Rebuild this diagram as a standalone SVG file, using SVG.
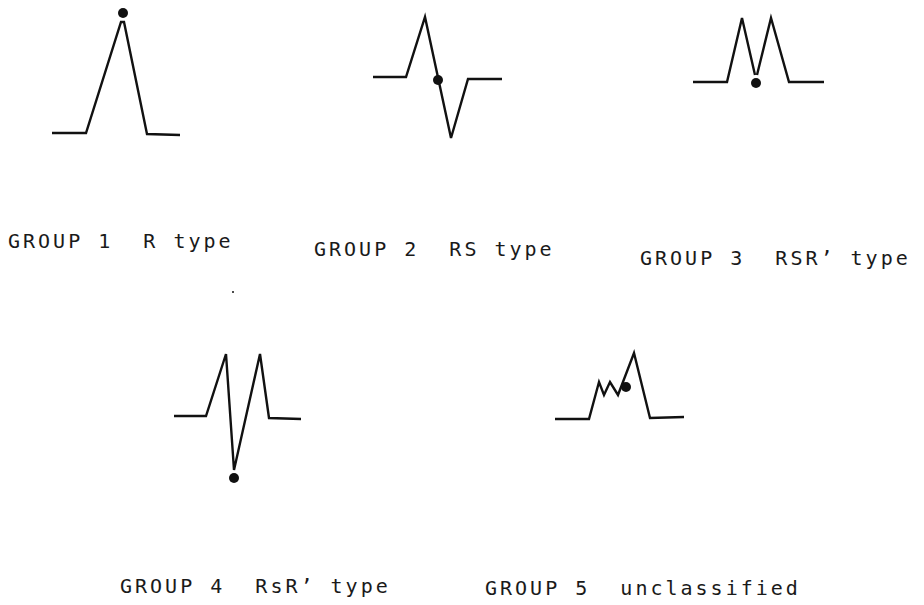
<svg xmlns="http://www.w3.org/2000/svg" width="924" height="605" viewBox="0 0 924 605">
<style>
.w{fill:none;stroke:#111;stroke-width:2.4;stroke-linejoin:miter;stroke-linecap:butt}
.d{fill:#111}
.t{font-family:"DejaVu Sans Mono","Liberation Mono",monospace;font-size:20px;letter-spacing:3px;fill:#1a1a1a;white-space:pre}
</style>
<rect width="924" height="605" fill="#fff"/>
<g id="group1">
<polyline class="w" points="52,133 86,133 121,22 124,22 147,134 180,135"/>
<circle class="d" cx="123" cy="13" r="5"/>
<text class="t" x="8" y="248" xml:space="preserve">GROUP 1  R type</text>
</g>
<g id="group2">
<polyline class="w" points="373,77 406,77 425,17 451,138 468,79 502,79"/>
<circle class="d" cx="438" cy="80" r="5"/>
<text class="t" x="314" y="256" xml:space="preserve">GROUP 2  RS type</text>
</g>
<g id="group3">
<polyline class="w" points="693,82 727,82 742,18 755,75"/>
<polyline class="w" points="757,75 771,18 789,82 824,82"/>
<circle class="d" cx="756" cy="83" r="5"/>
<text class="t" x="640" y="265" xml:space="preserve">GROUP 3  RSR’ type</text>
</g>
<g id="group4">
<polyline class="w" points="174,416 206,416 226,354 234,470 260,354 269,418 301,419"/>
<circle class="d" cx="234" cy="478" r="5"/>
<text class="t" x="120" y="593" xml:space="preserve">GROUP 4  RsR’ type</text>
</g>
<g id="group5">
<polyline class="w" points="555,419 589,419 599,382 604,395 610,382 618,395 634,353 650,418 684,417"/>
<circle class="d" cx="626" cy="387" r="5"/>
<text class="t" x="485" y="595" xml:space="preserve">GROUP 5  unclassified</text>
</g>
<circle class="d" cx="233" cy="292" r="1"/>
<g id="connectors"/>
</svg>
